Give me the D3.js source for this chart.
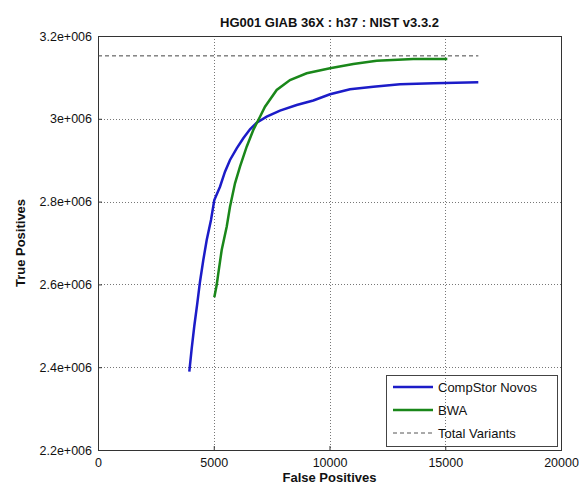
<!DOCTYPE html>
<html>
<head>
<meta charset="utf-8">
<script src="https://cdn.jsdelivr.net/npm/d3@7"></script>
<style>
  body { margin: 0; background: #fff; }
  text { font-family: 'Liberation Sans', Arial, sans-serif; }
</style>
</head>
<body>
<script>
const title = 'HG001 GIAB 36X : h37 : NIST v3.3.2'

// CompStor Novos (blue)
const novosFP = [3944, 4048, 4160, 4289, 4406, 4549, 4696, 4881, 5024, 5270, 5486, 5702, 5991, 6276,
    6566, 6855, 7287, 7862, 8583, 9300, 10022, 10886, 11892, 13045, 14484, 16428]
const novosTP = [2389100, 2445700, 2499500, 2554300, 2606500, 2658900, 2707200, 2755600, 2803900,
    2836000, 2872200, 2900500, 2928700, 2952900, 2974600, 2990600, 3005100, 3019600, 3033300,
    3044200, 3059200, 3071300, 3077500, 3083300, 3085700, 3088200]

// BWA (green)
const bwaFP = [5024, 5127, 5197, 5343, 5559, 5702, 5918, 6134, 6423, 6708, 6998, 7214, 7719, 8294,
    9015, 10022, 11028, 12039, 13620, 15089]
const bwaTP = [2568800, 2598600, 2626800, 2683100, 2739400, 2787700, 2844200, 2884300, 2932600,
    2972900, 3005100, 3029200, 3069600, 3093700, 3109900, 3122000, 3132400, 3140300, 3144400, 3144400]

const totalVariants = 3152000
const totalVariantsFP = [0, 16430]

const xTicks = [0, 5000, 10000, 15000, 20000]
const xTickLabels = ['0', '5000', '10000', '15000', '20000']
const yTicks = [2200000, 2400000, 2600000, 2800000, 3000000, 3200000]
const yTickLabels = ['2.2e+006', '2.4e+006', '2.6e+006', '2.8e+006', '3e+006', '3.2e+006']

const legendNames = ['CompStor Novos', 'BWA', 'Total Variants']

const margin = { top: 36, right: 18, bottom: 37, left: 98 }
const width = 579 - margin.left - margin.right
const height = 487 - margin.top - margin.bottom

const x = d3.scaleLinear().domain([0, 20000]).range([0, width])
const y = d3.scaleLinear().domain([2200000, 3200000]).range([height, 0])

const svg = d3.select('body').append('svg')
    .attr('width', 579)
    .attr('height', 487)

const g = svg.append('g')
    .attr('transform', 'translate(' + margin.left + ', ' + margin.top + ')')

// grid
g.selectAll('.vgrid')
    .data(xTicks.slice(1, -1))
    .enter().append('line')
    .attr('x1', (d) => Math.round(x(d)) + 0.5)
    .attr('x2', (d) => Math.round(x(d)) + 0.5)
    .attr('y1', 0)
    .attr('y2', height)
    .attr('stroke', '#777')
    .attr('stroke-dasharray', '1,2')

g.selectAll('.hgrid')
    .data(yTicks.slice(1, -1))
    .enter().append('line')
    .attr('y1', (d) => Math.round(y(d)) + 0.5)
    .attr('y2', (d) => Math.round(y(d)) + 0.5)
    .attr('x1', 0)
    .attr('x2', width)
    .attr('stroke', '#777')
    .attr('stroke-dasharray', '1,2')

// axes (inward ticks, MATLAB style)
const xAxis = d3.axisBottom(x).tickValues(xTicks).tickSizeInner(-4).tickSizeOuter(0).tickPadding(8)
    .tickFormat((d, i) => xTickLabels[i])
const yAxis = d3.axisLeft(y).tickValues(yTicks).tickSizeInner(-4).tickSizeOuter(0).tickPadding(6)
    .tickFormat((d, i) => yTickLabels[i])

g.append('g')
    .attr('transform', 'translate(0, ' + height + ')')
    .call(xAxis)
    .call((a) => a.select('.domain').remove())
    .call((a) => a.selectAll('text').attr('font-size', 12.5).attr('fill', '#111')
        .attr('font-family', "'Liberation Sans', Arial, sans-serif"))
    .call((a) => a.selectAll('line').attr('stroke', '#333'))

g.append('g')
    .call(yAxis)
    .call((a) => a.select('.domain').remove())
    .call((a) => a.selectAll('text').attr('font-size', 12.5).attr('fill', '#111')
        .attr('font-family', "'Liberation Sans', Arial, sans-serif"))
    .call((a) => a.selectAll('line').attr('stroke', '#333'))

// frame
g.append('rect')
    .attr('x', 0.5)
    .attr('y', 0.5)
    .attr('width', width)
    .attr('height', height)
    .attr('fill', 'none')
    .attr('stroke', '#333')

// total variants
g.append('line')
    .attr('x1', x(totalVariantsFP[0]))
    .attr('x2', x(totalVariantsFP[1]))
    .attr('y1', y(totalVariants))
    .attr('y2', y(totalVariants))
    .attr('stroke', '#444')
    .attr('stroke-dasharray', '4,3')

const line = d3.line()
    .x((d) => x(d[0]))
    .y((d) => y(d[1]))

g.append('path')
    .datum(novosFP.map((d, i) => [d, novosTP[i]]))
    .attr('d', line)
    .attr('fill', 'none')
    .attr('stroke', '#1c1cc8')
    .attr('stroke-width', 2.5)

g.append('path')
    .datum(bwaFP.map((d, i) => [d, bwaTP[i]]))
    .attr('d', line)
    .attr('fill', 'none')
    .attr('stroke', '#1a871a')
    .attr('stroke-width', 2.5)

// title and labels
svg.append('text')
    .attr('x', margin.left + width / 2)
    .attr('y', 27)
    .attr('text-anchor', 'middle')
    .attr('font-size', 13)
    .attr('font-weight', 'bold')
    .attr('fill', '#111')
    .text(title)

svg.append('text')
    .attr('x', margin.left + width / 2)
    .attr('y', 482)
    .attr('text-anchor', 'middle')
    .attr('font-size', 13)
    .attr('font-weight', 'bold')
    .attr('fill', '#111')
    .text('False Positives')

svg.append('text')
    .attr('transform', 'translate(25, ' + (margin.top + height / 2) + ') rotate(-90)')
    .attr('text-anchor', 'middle')
    .attr('font-size', 13)
    .attr('font-weight', 'bold')
    .attr('fill', '#111')
    .text('True Positives')

// legend
const legend = svg.append('g')
    .attr('transform', 'translate(386, 375)')

legend.append('rect')
    .attr('x', 0.5)
    .attr('y', 0.5)
    .attr('width', 171)
    .attr('height', 71)
    .attr('fill', 'none')
    .attr('stroke', '#444')

const legendStyles = [
    { stroke: '#1c1cc8', width: 2.5, dash: null },
    { stroke: '#1a871a', width: 2.5, dash: null },
    { stroke: '#555', width: 1, dash: '4,3' }
]

const item = legend.selectAll('.item')
    .data(legendNames)
    .enter().append('g')
    .attr('transform', (d, i) => 'translate(0, ' + (12 + i * 23) + ')')

item.append('line')
    .attr('x1', 7)
    .attr('x2', 47)
    .attr('y1', 0)
    .attr('y2', 0)
    .attr('stroke', (d, i) => legendStyles[i].stroke)
    .attr('stroke-width', (d, i) => legendStyles[i].width)
    .attr('stroke-dasharray', (d, i) => legendStyles[i].dash)

item.append('text')
    .attr('x', 52)
    .attr('y', 5)
    .attr('font-size', 13)
    .attr('fill', '#111')
    .text((d) => d)
</script>
</body>
</html>
